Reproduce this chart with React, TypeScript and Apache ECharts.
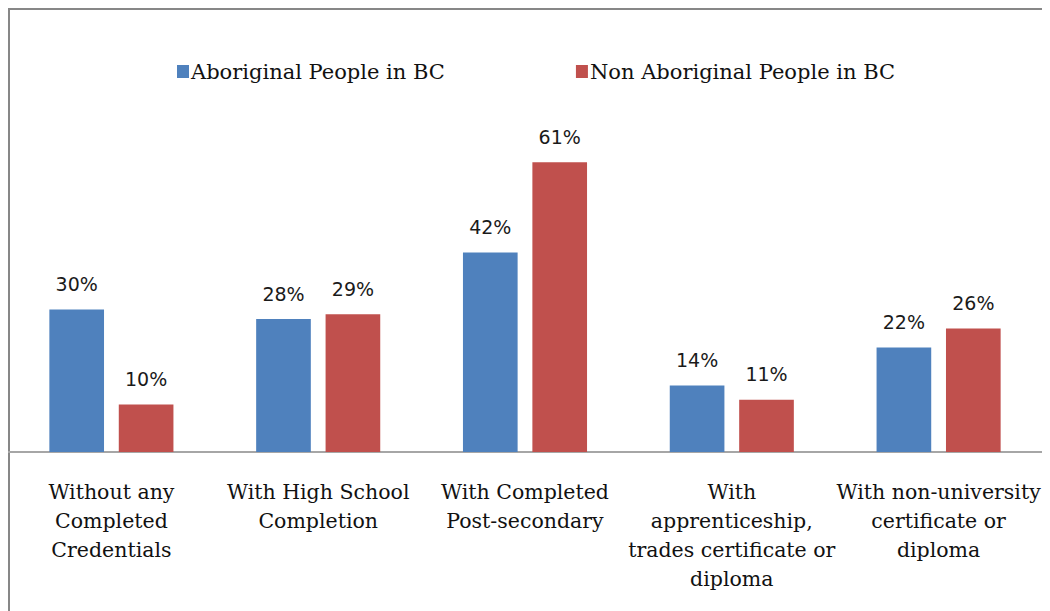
import React, { useEffect, useRef } from "react";
import * as echarts from "echarts";

const categories = [
  "Without any\nCompleted\nCredentials",
  "With High School\nCompletion",
  "With Completed\nPost-secondary",
  "With\napprenticeship,\ntrades certificate or\ndiploma",
  "With non-university\ncertificate or\ndiploma",
];
const seriesNames = ["Aboriginal People in BC", "Non Aboriginal People in BC"];
const aboriginal = [30, 28, 42, 14, 22];
const nonAboriginal = [10, 29, 61, 11, 26];

const serif = "DejaVu Serif";
const sans = "DejaVu Sans";

export default function App() {
  const ref = useRef<HTMLDivElement>(null);
  useEffect(() => {
    if (!ref.current) return;
    const chart = echarts.init(ref.current, null, { renderer: "svg" });
    const label = {
      show: true,
      position: "top" as const,
      distance: 16,
      formatter: "{c}%",
      fontFamily: sans,
      fontSize: 19,
      color: "#1a1a1a",
    };
    chart.setOption({
      animation: false,
      backgroundColor: "#fff",
      legend: {
        left: 164,
        top: 48,
        itemWidth: 12,
        itemHeight: 13,
        itemGap: 131,
        icon: "rect",
        textStyle: { fontFamily: serif, fontSize: 21, color: "#111", padding: [0, 0, 0, -3] },
        data: seriesNames,
      },
      grid: { left: 0, right: 8, top: 111.5, bottom: 159, containLabel: false },
      xAxis: {
        type: "category",
        data: categories,
        axisLine: { lineStyle: { color: "#a6a6a6", width: 2 } },
        axisTick: { show: false },
        axisLabel: {
          interval: 0,
          margin: 25,
          fontFamily: serif,
          fontSize: 20.5,
          lineHeight: 29,
          color: "#111",
        },
      },
      yAxis: {
        type: "value",
        min: 0,
        max: 70,
        show: false,
        splitLine: { show: false },
      },
      series: [
        {
          name: seriesNames[0],
          type: "bar",
          data: aboriginal,
          barGap: "27%",
          barCategoryGap: "40%",
          itemStyle: { color: "#4F81BD" },
          label,
        },
        {
          name: seriesNames[1],
          type: "bar",
          data: nonAboriginal,
          itemStyle: { color: "#C0504D" },
          label,
        },
      ],
      graphic: [
        { type: "line", shape: { x1: 1, y1: 0, x2: 1, y2: 603 }, style: { stroke: "#878787", lineWidth: 2 } },
        { type: "line", shape: { x1: 0, y1: 1, x2: 1042, y2: 1 }, style: { stroke: "#878787", lineWidth: 2 } },
      ],
    });
    return () => chart.dispose();
  }, []);
  return <div ref={ref} style={{ width: 1042, height: 603 }} />;
}
